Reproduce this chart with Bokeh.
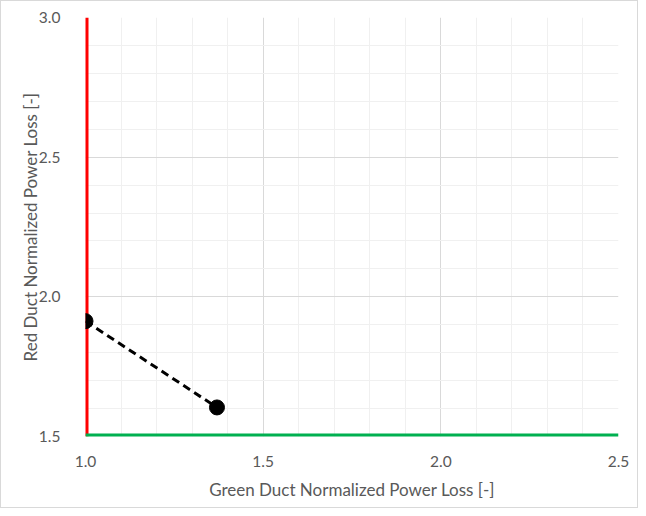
from bokeh.plotting import figure
from bokeh.models import Range1d, FixedTicker, NumeralTickFormatter
from bokeh.embed import file_html
from bokeh.resources import INLINE

# Data
green_x = [1.0, 1.37]
red_y = [1.913, 1.604]
red_line_x = [1.0, 1.0]
red_line_y = [1.5, 3.0]
green_line_x = [1.0, 2.5]
green_line_y = [1.5, 1.5]
x_ticks = [1.0, 1.5, 2.0, 2.5]
y_ticks = [1.5, 2.0, 2.5, 3.0]
x_minor = [1.1, 1.2, 1.3, 1.4, 1.6, 1.7, 1.8, 1.9, 2.1, 2.2, 2.3, 2.4]
y_minor = [1.6, 1.7, 1.8, 1.9, 2.1, 2.2, 2.3, 2.4, 2.6, 2.7, 2.8, 2.9]

FONT = "Lato"

p = figure(width=638, height=508, output_backend="svg", toolbar_location=None,
           x_range=Range1d(1.0, 2.5), y_range=Range1d(1.5, 3.0),
           min_border_left=84, min_border_right=21, min_border_top=16, min_border_bottom=73)

p.xaxis.ticker = FixedTicker(ticks=x_ticks, minor_ticks=x_minor)
p.yaxis.ticker = FixedTicker(ticks=y_ticks, minor_ticks=y_minor)

for ax in (p.xaxis, p.yaxis):
    ax.axis_line_color = None
    ax.major_tick_line_color = None
    ax.minor_tick_line_color = None
    ax.major_label_text_font = FONT
    ax.major_label_text_font_size = "15.5px"
    ax.major_label_text_color = "#595959"
    ax.axis_label_text_font = FONT
    ax.axis_label_text_font_size = "17px"
    ax.axis_label_text_font_style = "normal"
    ax.axis_label_text_color = "#595959"
    ax.formatter = NumeralTickFormatter(format="0.0")

p.xaxis.axis_label = "Green Duct Normalized Power Loss [-]"
p.yaxis.axis_label = "Red Duct Normalized Power Loss [-]"
p.xaxis.major_label_standoff = 13
p.yaxis.major_label_standoff = 19
p.xaxis.axis_label_standoff = 9
p.yaxis.axis_label_standoff = -5

for g in (p.xgrid, p.ygrid):
    g.grid_line_color = "#d9d9d9"
    g.grid_line_width = 1
    g.minor_grid_line_color = "#f0f0f0"
    g.minor_grid_line_width = 1

p.outline_line_color = None
p.background_fill_color = "white"
p.border_fill_color = "white"

p.line(red_line_x, red_line_y, line_color="#ff0000", line_width=6)
p.line(green_line_x, green_line_y, line_color="#00b050", line_width=6)

p.line(green_x, red_y, line_color="black", line_width=3, line_dash="8 5")
p.scatter(green_x, red_y, size=15, fill_color="black", line_color="black")

p.styles = {"border": "1px solid #d9d9d9"}

open("out.html", "w").write(file_html(p, INLINE))
